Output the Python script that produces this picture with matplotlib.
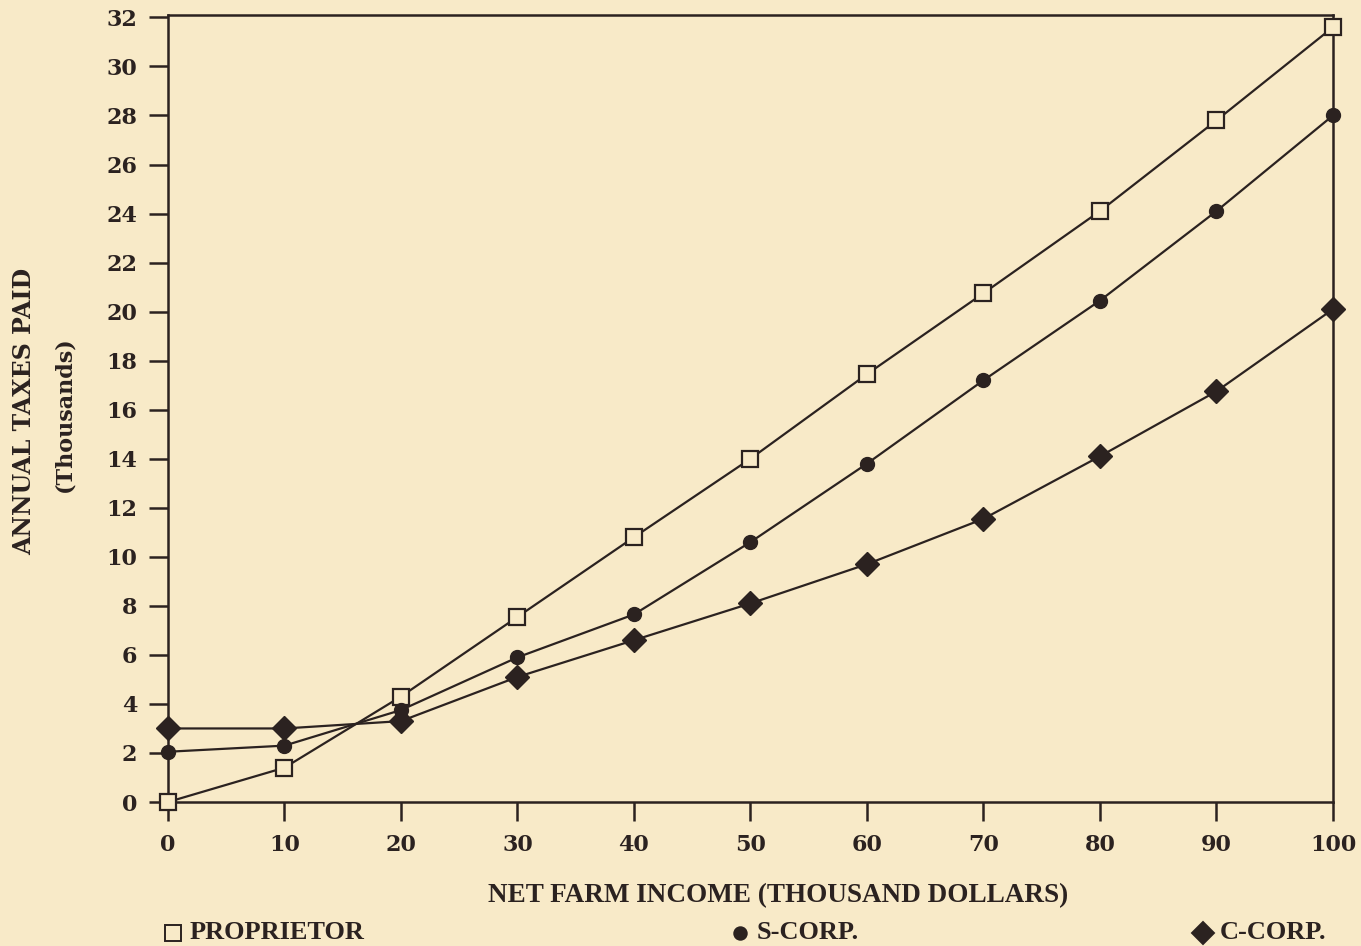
import matplotlib
matplotlib.use("Agg")
import matplotlib.pyplot as plt
from matplotlib.lines import Line2D

# data (thousand dollars)
income = [0, 10, 20, 30, 40, 50, 60, 70, 80, 90, 100]
proprietor = [0.0, 1.4, 4.3, 7.55, 10.8, 14.0, 17.45, 20.75, 24.1, 27.8, 31.6]
s_corp = [2.05, 2.3, 3.75, 5.9, 7.65, 10.6, 13.8, 17.2, 20.45, 24.1, 28.0]
c_corp = [3.0, 3.0, 3.3, 5.1, 6.6, 8.1, 9.7, 11.55, 14.1, 16.75, 20.1]

x_ticks = [0, 10, 20, 30, 40, 50, 60, 70, 80, 90, 100]
y_ticks = list(range(0, 33, 2))

bg = '#f8eac8'
ink = '#2b2220'

fig = plt.figure(figsize=(13.61, 9.46), dpi=100, facecolor=bg)
ax = fig.add_axes([0.1234, 0.1522, 0.8560, 0.8320])
ax.set_facecolor(bg)

ax.plot(income, proprietor, color=ink, lw=1.6, marker='s', ms=11.5, mfc=bg,
        mec=ink, mew=1.6, zorder=3, clip_on=False)
ax.plot(income, s_corp, color=ink, lw=1.6, marker='o', ms=10, mfc=ink,
        mec=ink, zorder=3, clip_on=False)
ax.plot(income, c_corp, color=ink, lw=1.6, marker='D', ms=12, mfc=ink,
        mec=ink, zorder=3, clip_on=False)

ax.set_xlim(0, 100)
ax.set_ylim(0, 32.1)
ax.set_xticks(x_ticks)
ax.set_yticks(y_ticks)

for s in ax.spines.values():
    s.set_color(ink)
    s.set_linewidth(1.8)

ax.tick_params(axis='both', colors=ink, length=14, width=1.8, direction='out')
ax.tick_params(axis='y', pad=8)
ax.tick_params(axis='x', pad=9)
for lab in ax.get_xticklabels() + ax.get_yticklabels():
    lab.set_fontfamily('DejaVu Serif')
    lab.set_fontweight('bold')
    lab.set_fontsize(16)
    lab.set_color(ink)

# y axis title (two lines)
fig.text(0.018, 0.565, 'ANNUAL TAXES PAID', rotation=90, ha='center', va='center',
         fontfamily='DejaVu Serif', fontweight='bold', fontsize=17, color=ink)
fig.text(0.047, 0.562, '(Thousands)', rotation=90, ha='center', va='center',
         fontfamily='DejaVu Serif', fontweight='semibold', fontsize=16, color=ink)

# x axis title
fig.text(0.572, 0.053, 'NET FARM INCOME (THOUSAND DOLLARS)', ha='center', va='center',
         fontfamily='Liberation Serif', fontweight='bold', fontsize=19.5, color=ink)

# legend entries spread along the bottom
entries = [
    (0.127, 'PROPRIETOR', 's', bg, 11),
    (0.544, 'S-CORP.', 'o', ink, 9),
    (0.884, 'C-CORP.', 'D', ink, 11),
]
for x0, name, m, fc, size in entries:
    fig.add_artist(Line2D([x0], [0.014], transform=fig.transFigure, marker=m,
                          ms=size, mfc=fc, mec=ink, mew=1.4, ls='none'))
    fig.text(x0 + 0.012, 0.014, name, ha='left', va='center',
             fontfamily='Liberation Serif', fontweight='bold', fontsize=19, color=ink)

fig.savefig('out.png', dpi=100, facecolor=bg)
